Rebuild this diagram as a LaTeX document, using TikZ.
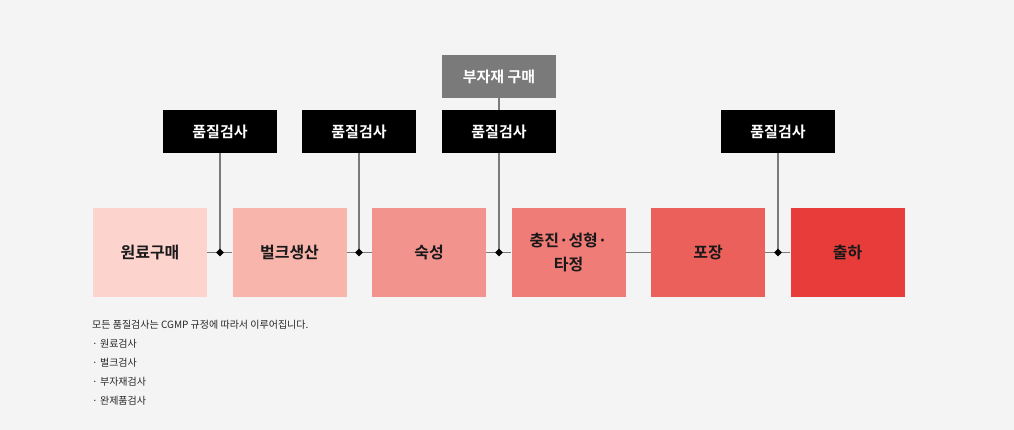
\documentclass[tikz,border=0pt]{standalone}
\usepackage{fontspec}
\setmainfont{Noto Sans CJK KR}
\newfontfamily\krb{Noto Sans CJK KR Bold}
\usetikzlibrary{shapes.geometric}
\definecolor{bg}{HTML}{F4F4F4}
\definecolor{cA}{HTML}{FDD3CE}
\definecolor{cB}{HTML}{F8B5AC}
\definecolor{cC}{HTML}{F3938E}
\definecolor{cD}{HTML}{F07C77}
\definecolor{cE}{HTML}{EC605C}
\definecolor{cF}{HTML}{E73C39}
\definecolor{ln}{HTML}{7A7A7A}
\begin{document}
\begin{tikzpicture}[x=1pt,y=-1pt,
  stage/.style={minimum width=114pt,minimum height=89pt,inner sep=0pt,font=\krb\fontsize{16}{24}\selectfont,text=black!90,align=center},
  qc/.style={fill=black,text=white,minimum width=114pt,minimum height=43pt,inner sep=0pt,font=\krb\fontsize{15}{18}\selectfont},
  dot/.style={diamond,fill=black,inner sep=0pt,minimum size=8pt},
  conn/.style={draw=ln,line width=1.2pt}]
\fill[bg] (0,0) rectangle (1014,430);
\useasboundingbox (0,0) rectangle (1014,430);
\node[stage,fill=cA] (s1) at (150,252.5) {원료구매};
\node[stage,fill=cB] (s2) at (289.5,252.5) {벌크생산};
\node[stage,fill=cC] (s3) at (429,252.5) {숙성};
\node[stage,fill=cD] (s4) at (568.5,252.5) {충진·성형·\\타정};
\node[stage,fill=cE] (s5) at (708,252.5) {포장};
\node[stage,fill=cF] (s6) at (847.5,252.5) {출하};
\node[qc] (q1) at (220,131.5) {품질검사};
\node[qc] (q2) at (359,131.5) {품질검사};
\node[qc] (q3) at (499,131.5) {품질검사};
\node[qc] (q4) at (778,131.5) {품질검사};
\node[qc,fill=ln] (g) at (499,76.5) {부자재 구매};
\foreach \a/\b in {s1/s2,s2/s3,s3/s4,s4/s5,s5/s6}
  \draw[conn] (\a.east) -- (\b.west);
\coordinate (d1) at (220,252.5);
\coordinate (d2) at (359,252.5);
\coordinate (d3) at (499,252.5);
\coordinate (d4) at (778,252.5);
\draw[conn] (g.south) -- (q3.north);
\foreach \i in {1,2,3,4}{
  \draw[conn] (q\i.south) -- (d\i);
  \node[dot] at (d\i) {};}
\node[anchor=north west,align=left,inner sep=0pt,font=\fontsize{10}{19}\selectfont,text=black!85] (notes) at (92,320)
{모든 품질검사는 CGMP 규정에 따라서 이루어집니다.\\· 원료검사\\· 벌크검사\\· 부자재검사\\· 완제품검사};
\end{tikzpicture}
\end{document}
